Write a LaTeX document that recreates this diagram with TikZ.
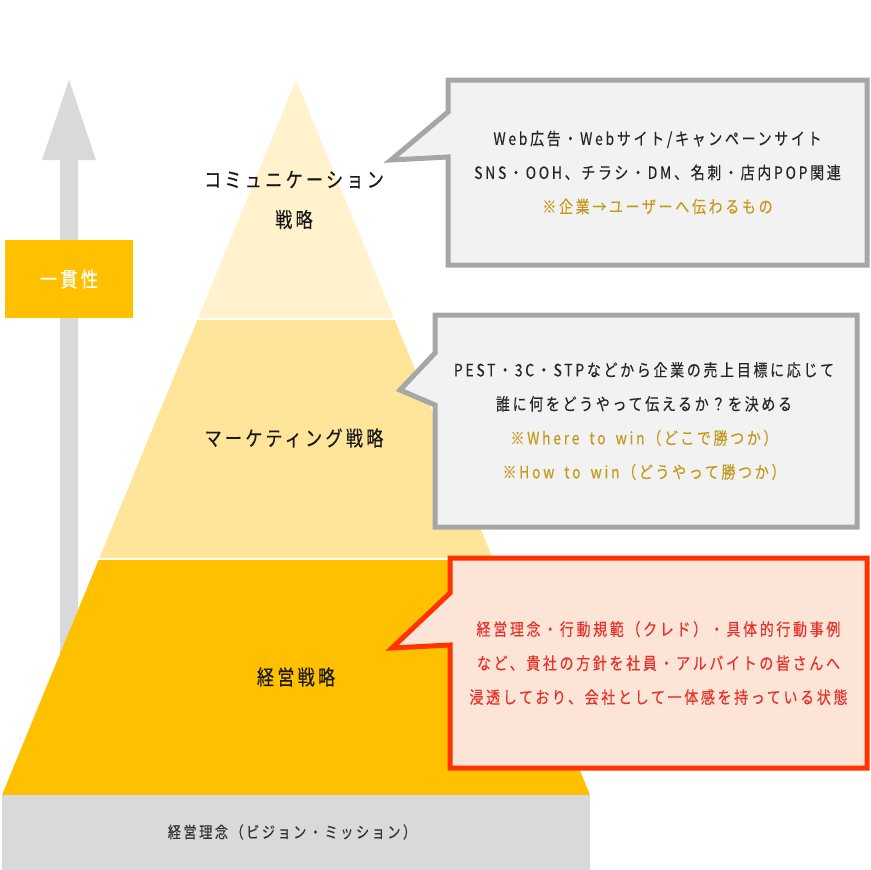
\documentclass[tikz,border=0pt]{standalone}
\usepackage{fontspec}
\usepackage{tikz}
\newfontfamily\jp[FakeStretch=0.82,LetterSpace=16,FakeBold=0.3]{Noto Sans CJK JP}
\definecolor{gold}{HTML}{FFC000}
\definecolor{tiermid}{HTML}{FFE599}
\definecolor{tiertop}{HTML}{FFF2CC}
\definecolor{basegrey}{HTML}{D9D9D9}
\definecolor{bubblegrey}{HTML}{A6A6A6}
\definecolor{bubblefill}{HTML}{F2F2F2}
\definecolor{alertred}{HTML}{FF3300}
\definecolor{alertfill}{HTML}{FCE4D6}
\definecolor{alerttext}{HTML}{E8302A}
\definecolor{notegold}{HTML}{C49A1E}

\tikzset{
	lbl/.style={font=\jp\fontsize{20.8}{40}\selectfont, text=black!90, align=center},
	note/.style={font=\jp\fontsize{17}{34}\selectfont, align=center, inner sep=0pt, text=black!85},
	bubble/.style={line width=5pt, line join=miter, draw=bubblegrey, fill=bubblefill},
	alert/.style={bubble, draw=alertred, fill=alertfill}
}

\begin{document}
\begin{tikzpicture}[x=1pt,y=-1pt]
	\useasboundingbox (0,0) rectangle (870,870);
	\fill[basegrey] (60,700) -- (60,160) -- (42,160) -- (69,80) -- (96,160) -- (78,160) -- (78,700) -- cycle;
	\fill[tiertop] (296,80) -- (393.9,318) -- (198.1,318) -- cycle;
	\fill[tiermid] (197.3,320) -- (394.7,320) -- (492.6,558) -- (99.4,558) -- cycle;
	\fill[gold] (98.6,560) -- (493.4,560) -- (590,795) -- (2,795) -- cycle;
	\fill[basegrey] (2,795) rectangle (590,870);
	\node[lbl] (comm) at (294,200) {コミュニケーション\\戦略};
	\node[lbl] (mkt) at (294,438) {マーケティング戦略};
	\node[lbl] (mgmt) at (296,677) {経営戦略};
	\node[lbl, font=\jp\fontsize{16}{18}\selectfont, text=black!80] (vision) at (292,832) {経営理念（ビジョン・ミッション）};
	\node[fill=gold, minimum width=128pt, minimum height=78pt, text=white, font=\jp\fontsize{21}{24}\selectfont] (consist) at (69,279) {一貫性};
	\draw[bubble] (448,80) -- (867,80) -- (867,265) -- (448,265) -- (448,157) -- (391,160) -- (448,112) -- cycle;
	\node[note] (commnote) at (657.5,172.5) {Web広告・Webサイト/キャンペーンサイト\\SNS・OOH、チラシ・DM、名刺・店内POP関連\\{\color{notegold}※企業→ユーザーへ伝わるもの}};
	\draw[bubble] (435,315) -- (857,315) -- (857,527) -- (435,527) -- (435,405) -- (400,390) -- (435,353) -- cycle;
	\node[note] (mktnote) at (644,421) {PEST・3C・STPなどから企業の売上目標に応じて\\誰に何をどうやって伝えるか？を決める\\{\color{notegold}※Where\hspace{10pt}to\hspace{10pt}win（どこで勝つか）}\\{\color{notegold}※How\hspace{10pt}to\hspace{10pt}win（どうやって勝つか）}};
	\draw[alert] (450,558) -- (867,558) -- (867,768) -- (450,768) -- (450,645) -- (392,648) -- (450,593) -- cycle;
	\node[note, text=alerttext] (mgmtnote) at (658.5,663) {経営理念・行動規範（クレド）・具体的行動事例\\など、貴社の方針を社員・アルバイトの皆さんへ\\浸透しており、会社として一体感を持っている状態};
\end{tikzpicture}
\end{document}
